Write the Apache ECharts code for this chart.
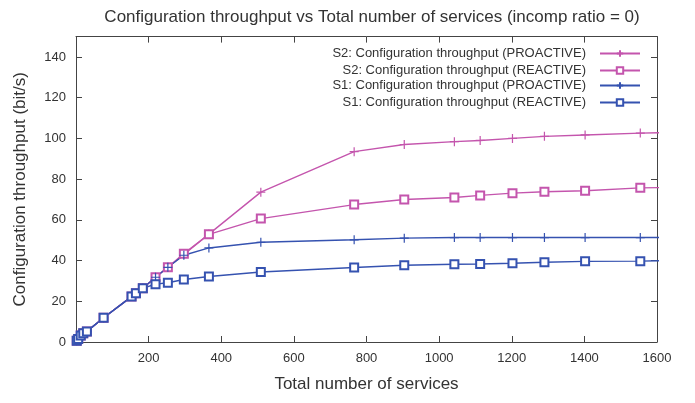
<!DOCTYPE html>
<html>
<head>
<meta charset="utf-8">
<script src="https://cdn.jsdelivr.net/npm/echarts@6/dist/echarts.min.js"></script>
<style>html,body{margin:0;padding:0;background:#fff}#c{width:695px;height:403px}</style>
</head>
<body>
<div id="c"></div>
<script>
const xValues = [2, 6, 13, 20, 30, 76, 153, 165, 184, 219, 253, 297, 366, 509, 766, 904, 1042, 1113, 1202, 1290, 1402, 1554, 1700];
const earlyValues = [0.6, 1.5, 3.2, 4.3, 5.2, 11.9, 22.3, 23.9, 26.4];
const s2Proactive = earlyValues.concat([31.8, 36.7, 43.0, 53.0, 73.6, 93.5, 97.0, 98.4, 99.0, 100.0, 101.0, 101.7, 102.6, 103.0]);
const s2Reactive  = earlyValues.concat([31.8, 36.7, 43.4, 52.9, 60.6, 67.5, 70.0, 71.0, 72.0, 73.1, 73.8, 74.3, 75.7, 76.1]);
const s1Proactive = earlyValues.concat([31.8, 36.7, 42.6, 46.2, 49.0, 50.2, 51.0, 51.3, 51.3, 51.3, 51.3, 51.3, 51.3, 51.3]);
const s1Reactive  = earlyValues.concat([28.4, 29.1, 30.7, 32.2, 34.4, 36.6, 37.7, 38.2, 38.3, 38.7, 39.2, 39.6, 39.7, 40.3]);
const seriesNames = [
  'S2: Configuration throughput (PROACTIVE)',
  'S2: Configuration throughput (REACTIVE)',
  'S1: Configuration throughput (PROACTIVE)',
  'S1: Configuration throughput (REACTIVE)'
];
const xTicks = {min: 0, max: 1600, interval: 200};
const yTicks = {min: 0, max: 150, interval: 20};

const PINK = '#c455ad';
const BLUE = '#3552b0';
const PLUS = 'path://M5,0L5,10M0,5L10,5';
const FONT = 'Liberation Sans';

function pairs(ys){ return xValues.map((x,i)=>[x, ys[i]]); }
function mk(name, ys, color, plus){
  return {
    name, type: 'line', data: pairs(ys), xAxisIndex: 0, yAxisIndex: 0,
    symbol: plus ? PLUS : 'emptyRect',
    symbolSize: plus ? 9 : 8,
    showAllSymbol: true,
    clip: true,
    lineStyle: {color, width: 1.4},
    itemStyle: plus ? {color: 'none', borderColor: color, borderWidth: 1.2} : {color: color, borderColor: color, borderWidth: 1},
    emphasis: {disabled: true},
    animation: false
  };
}
const chart = echarts.init(document.getElementById('c'));
const axisCommon = {
  axisLine: {show: true, onZero: false, lineStyle: {color: '#444', width: 1}},
  axisTick: {show: true, inside: true, length: 6, lineStyle: {color: '#444'}},
  splitLine: {show: false}
};
const legendTops = [42, 59, 74, 91];
chart.setOption({
  backgroundColor: '#fff',
  animation: false,
  title: {
    text: 'Configuration throughput vs Total number of services (incomp ratio = 0)',
    left: 367, textAlign: 'center', top: 4,
    textStyle: {fontFamily: FONT, fontSize: 17, fontWeight: 'normal', color: '#333'}
  },
  legend: seriesNames.map((n,i)=>({
    data: [n], right: 49, top: legendTops[i], orient: 'vertical', align: 'right',
    itemWidth: 40, itemHeight: 8, selectedMode: false,
    textStyle: {fontFamily: FONT, fontSize: 13, color: '#333', padding: [0, 9, 0, 0]}
  })),
  grid: {left: 76, right: 38, top: 36.6, bottom: 61, containLabel: false},
  xAxis: [
    Object.assign({type: 'value', position: 'bottom', min: xTicks.min, max: xTicks.max, interval: xTicks.interval,
      name: 'Total number of services', nameLocation: 'middle', nameGap: 34,
      nameTextStyle: {fontFamily: FONT, fontSize: 17, color: '#333'},
      axisLabel: {showMinLabel: false, fontFamily: FONT, fontSize: 13, color: '#333', margin: 10, formatter: v => String(v)}}, axisCommon),
    Object.assign({type: 'value', position: 'top', min: xTicks.min, max: xTicks.max, interval: xTicks.interval,
      axisLabel: {show: false}}, axisCommon)
  ],
  yAxis: [
    Object.assign({type: 'value', position: 'left', min: yTicks.min, max: yTicks.max, interval: yTicks.interval,
      name: 'Configuration throughput (bit/s)', nameLocation: 'middle', nameGap: 47, nameRotate: 90,
      nameTextStyle: {fontFamily: FONT, fontSize: 17, color: '#333'},
      axisLabel: {showMaxLabel: false, fontFamily: FONT, fontSize: 13, color: '#333', margin: 10, formatter: v => String(v)}}, axisCommon),
    Object.assign({type: 'value', position: 'right', min: yTicks.min, max: yTicks.max, interval: yTicks.interval,
      axisLabel: {show: false}}, axisCommon)
  ],
  series: [
    mk(seriesNames[0], s2Proactive, PINK, true),
    mk(seriesNames[1], s2Reactive, PINK, false),
    mk(seriesNames[2], s1Proactive, BLUE, true),
    mk(seriesNames[3], s1Reactive, BLUE, false)
  ]
});
</script>
</body>
</html>
